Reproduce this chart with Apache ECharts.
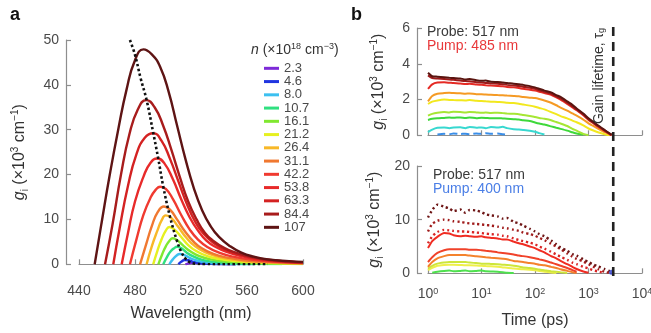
<!DOCTYPE html>
<html><head><meta charset="utf-8">
<script src="https://cdn.jsdelivr.net/npm/echarts@6/dist/echarts.min.js"></script>
<style>html,body{margin:0;padding:0;background:#fff}#c{width:651px;height:333px}</style>
</head><body><div id="c"></div><script>
// ---------- DATA: panel a (gain spectra, wavelength nm -> g_i x10^3 cm^-1) ----------
const DENSITY_LABELS = ['2.3','4.6','8.0','10.7','16.1','21.2','26.4','31.1','42.2','53.8','63.3','84.4','107'];
const SPEC_2_3  = [[516,0],[518.5,0.22],[521,0.34],[524,0.3],[528,0.2],[534,0.1],[542,0.04],[552,0.01]];
const SPEC_4_6  = [[511,0],[513,0.55],[515.5,0.95],[518,0.9],[521,0.6],[525,0.32],[531,0.14],[540,0.05],[552,0.01]];
const SPEC_8_0  = [[504.5,0],[507,1.1],[509.5,1.9],[512,2.3],[515,2.1],[519,1.45],[524,0.85],[530,0.45],[538,0.2],[550,0.07],[565,0.02]];
const SPEC_10_7 = [[500.2,0],[503,1.7],[505.5,2.9],[508,3.6],[510,3.9],[513,3.6],[517,2.6],[522,1.7],[528,1.0],[536,0.55],[548,0.25],[565,0.1],[585,0.03]];
const SPEC_16_1 = [[496.7,0],[499.5,2.3],[502,4],[504.5,5.2],[507,5.8],[510,5.4],[515,4],[520,2.8],[526,1.8],[534,1.1],[545,0.6],[560,0.3],[580,0.15],[600,0.07]];
const SPEC_21_2 = [[493,0],[496,3],[499,5.6],[502,7.5],[504.5,8.3],[508,7.8],[513,6.1],[518,4.3],[524,2.9],[531,1.9],[540,1.2],[552,0.7],[570,0.35],[600,0.15]];
const SPEC_26_4 = [[488.3,0],[492,4],[496,7.5],[499,9.8],[502,10.9],[506,10.3],[511,8.3],[517,5.8],[523,4],[530,2.7],[538,1.8],[548,1.1],[562,0.6],[580,0.35],[600,0.2]];
const SPEC_31_1 = [[483.6,0],[488,4.5],[492,8.5],[496,11.5],[500.7,12.9],[505,12.2],[510,10],[516,7.2],[522,5],[528,3.5],[536,2.3],[546,1.5],[558,0.9],[575,0.5],[600,0.25]];
const SPEC_42_2 = [[476.4,0],[481,5.5],[486,11],[491,14.8],[495,16.7],[498,17.3],[502,16.8],[507,14.6],[513,11],[519,7.8],[525,5.5],[532,3.8],[540,2.6],[550,1.7],[562,1.1],[578,0.6],[600,0.3]];
const SPEC_53_8 = [[470.5,0],[475,7],[480,14],[486,19.5],[491,22.6],[496,23.6],[501,22.5],[507,19],[513,14.5],[519,10.5],[525,7.5],[531,5.3],[538,3.8],[546,2.7],[556,1.8],[568,1.1],[584,0.6],[600,0.35]];
const SPEC_63_3 = [[464.5,0],[469,8],[475,17.5],[481,24.5],[487,28.2],[493,29.2],[499,27.5],[505,23.5],[511,18.5],[517,13.5],[523,9.5],[529,6.8],[536,4.8],[544,3.3],[554,2.2],[565,1.4],[580,0.8],[600,0.4]];
const SPEC_84_4 = [[458.6,0],[464,9],[470,20],[476,29],[482,34.5],[488,36.6],[494,35],[500,31],[506,25.5],[512,19.5],[518,14],[524,10],[530,7],[536,5.2],[544,3.6],[552,2.6],[562,1.7],[575,1.0],[590,0.6],[600,0.45]];
const SPEC_107  = [[451.2,0],[456,9],[462,20],[468,30],[474,39],[480,45.5],[486,47.9],[492,46.8],[498,44],[504,38.5],[510,31],[516,23.5],[522,17],[528,12],[534,8.5],[540,6.1],[548,4],[556,2.6],[565,1.7],[575,1.1],[590,0.7],[600,0.55]];
const MU_I0 = [[476.4,50],[480,46.7],[484,41.5],[488.3,36.6],[493.1,29.2],[496.6,23.6],[500.2,17.3],[505,10.6],[509.8,5.4],[513,2.8],[516,1.3],[519,0.5],[523,0.15],[530,0.03],[545,0],[575,0]];

// ---------- DATA: panel b (time ps -> g_i) ----------
const TIME_B = [1,1.2,1.5,2,2.5,3,4,5,6,8,10,12,15,20,25,30,40,50,60,80,100,120,150,200,250,300,400,500,600,800,1000,1200,1500,2000,2500,2700];
const GAIN_LIFETIME_PS = 2900;
// pump 485 nm
const P485_BROWN  = [3.5,3.3,3.28,3.25,3.22,3.2,3.18,3.12,3.15,3.08,3.05,3.06,3.0,2.98,2.95,2.93,2.88,2.86,2.82,2.75,2.68,2.6,2.5,2.4,2.25,2.15,1.9,1.7,1.5,1.22,0.95,0.78,0.56,0.3,0.1,0.04];
const P485_DKRED  = [3.35,3.2,3.18,3.15,3.12,3.1,3.06,3.03,3.02,2.97,2.95,2.93,2.9,2.88,2.85,2.82,2.78,2.76,2.72,2.66,2.6,2.52,2.43,2.32,2.18,2.06,1.82,1.62,1.44,1.17,0.9,0.73,0.52,0.27,0.08,0.02];
const P485_RED    = [2.6,2.85,2.95,2.96,2.94,2.92,2.9,2.87,2.88,2.84,2.82,2.8,2.78,2.76,2.74,2.7,2.68,2.64,2.6,2.55,2.5,2.44,2.36,2.26,2.12,2.0,1.76,1.56,1.4,1.12,0.86,0.7,0.48,0.25,0.06,0.0];
const P485_ORANGE = [1.9,2.2,2.32,2.36,2.38,2.36,2.35,2.33,2.34,2.3,2.3,2.28,2.27,2.25,2.24,2.22,2.2,2.18,2.14,2.1,2.08,2.03,1.95,1.82,1.68,1.55,1.38,1.22,1.1,0.88,0.67,0.54,0.38,0.18,0.06,0.02];
const P485_YELLOW = [1.75,1.88,1.95,2.0,1.98,1.97,1.96,1.95,1.97,1.93,1.92,1.9,1.88,1.86,1.85,1.82,1.8,1.76,1.72,1.66,1.6,1.53,1.45,1.3,1.18,1.07,0.95,0.82,0.73,0.55,0.38,0.28,0.17,0.06,0.0];
const P485_LGREEN = [1.1,1.2,1.26,1.3,1.28,1.32,1.3,1.27,1.3,1.28,1.26,1.27,1.25,1.26,1.24,1.22,1.2,1.18,1.14,1.08,1.02,0.97,0.92,0.84,0.74,0.66,0.52,0.36,0.26,0.08,0.0];
const P485_GREEN  = [0.86,0.92,0.95,0.97,0.99,0.98,1.0,0.97,0.99,0.96,0.98,0.97,0.95,0.96,0.94,0.93,0.9,0.88,0.84,0.8,0.72,0.66,0.6,0.5,0.42,0.36,0.26,0.17,0.1,0.03];
const P485_CYAN   = [0.18,0.32,0.42,0.44,0.4,0.43,0.45,0.4,0.47,0.42,0.44,0.4,0.46,0.43,0.48,0.4,0.34,0.32,0.3,0.26,0.2,0.12,0.04];
const P485_BLUE   = [null,null,0.05,0.08,0.06,0.1,0.07,0.09,0.06,0.1,0.08,0.12,0.09,0.1,0.06,0.04];
// pump 400 nm
const P400_BROWN_DOT = [10.4,11.8,12.8,12.4,12.1,11.6,11.9,11.3,11.8,11.7,11.4,11.0,10.8,10.6,10.2,10.3,9.6,9.3,8.9,8.3,7.8,7.3,6.9,6.1,5.4,4.8,4.2,3.6,3.3,2.6,2.1,1.7,1.3,0.8,0.4];
const P400_DKRED_DOT = [7.8,9.2,9.8,10.0,9.9,9.7,9.6,9.4,9.3,9.2,9.1,9.0,8.9,8.7,8.5,8.4,8.1,7.9,7.6,7.3,7.0,6.6,6.2,5.5,5.0,4.5,3.7,3.1,2.7,2.2,1.7,1.3,0.8,0.3,0.05];
const P400_RED_DOT   = [5.6,6.9,7.7,8.1,8.0,7.9,7.8,7.8,7.7,7.6,7.5,7.4,7.3,7.2,7.0,6.9,6.5,6.2,6.0,5.7,5.4,5.0,4.6,4.0,3.5,3.1,2.5,2.0,1.7,1.2,0.9,0.6,0.35,0.05];
const P400_RED       = [4.7,6.0,6.8,7.5,7.4,7.1,6.9,7.0,6.9,6.8,6.9,6.7,6.6,6.5,6.3,6.3,5.9,5.6,5.4,5.0,4.7,4.3,3.9,3.2,2.8,2.3,1.7,1.2,0.8,0.35,0.1];
const P400_RED_LOW   = [2.1,3.0,3.8,4.3,4.5,4.5,4.5,4.5,4.4,4.4,4.3,4.2,4.1,3.9,3.8,3.7,3.5,3.3,3.2,3.0,2.8,2.6,2.4,2.0,1.7,1.4,1.0,0.6,0.3];
const P400_ORANGE    = [1.2,2.1,2.8,3.2,3.4,3.4,3.4,3.4,3.3,3.2,3.1,3.0,2.9,2.8,2.7,2.6,2.3,2.2,2.1,1.9,1.8,1.6,1.5,1.2,1.0,0.75,0.45,0.2,0.05];
const P400_YGREEN    = [0.9,1.4,1.8,2.0,2.1,2.1,2.1,2.1,2.0,1.9,1.8,1.8,1.75,1.7,1.6,1.55,1.4,1.25,1.1,1.0,0.85,0.7,0.55,0.4,0.3,0.2,0.05];
const P400_YELLOW    = [0.6,1.0,1.4,1.55,1.6,1.6,1.55,1.5,1.5,1.45,1.4,1.35,1.3,1.2,1.1,1.05,0.9,0.8,0.75,0.65,0.55,0.45,0.3,0.15,0.05];
const P400_GREEN     = [null,0.1,0.3,0.45,0.5,0.4,0.45,0.5,0.4,0.45,0.5,0.4,0.35,0.3,0.2,0.1,0.05];
const P400_END_POINT = [[2700,0.2]];

// ---------- STYLE ----------
const FONT = 'Liberation Sans, Arial, Helvetica, sans-serif';
const AXIS_COLOR = '#8e8e8e', LABEL_COLOR = '#4a4a4a', NAME_COLOR = '#333';
const DENSITY_COLORS = ['#7d2ad8','#2035e0','#3cc0f0','#30e080','#80e830','#e6f020','#f8b828','#f07830','#f03a30','#e82a2a','#d42222','#a81c1c','#5e1414'];
const SPECTRA = [SPEC_2_3,SPEC_4_6,SPEC_8_0,SPEC_10_7,SPEC_16_1,SPEC_21_2,SPEC_26_4,SPEC_31_1,SPEC_42_2,SPEC_53_8,SPEC_63_3,SPEC_84_4,SPEC_107];

function zipT(vals){ return vals.map((v,i)=> v==null ? null : [TIME_B[i], v]).filter(p=>p); }

const richY = {
  g: {fontStyle:'italic', fontSize:16, fontFamily:FONT, color:NAME_COLOR},
  sub: {fontSize:10, verticalAlign:'bottom', lineHeight:11, fontFamily:FONT, color:NAME_COLOR},
  sup: {fontSize:10, verticalAlign:'top', lineHeight:11, fontFamily:FONT, color:NAME_COLOR}
};
const Y_NAME = '{g|g}{sub|i} (×10{sup|3} cm{sup|−1})';

function axisCommon(){
  return {
    axisLine:{show:true, lineStyle:{color:AXIS_COLOR, width:1.2}},
    axisTick:{show:true, inside:true, length:5, lineStyle:{color:AXIS_COLOR, width:1.2}},
    splitLine:{show:false},
    axisLabel:{color:LABEL_COLOR, fontSize:14, fontFamily:FONT}
  };
}

const series = [];
SPECTRA.forEach((d,i)=>{
  series.push({type:'line', name:DENSITY_LABELS[i], xAxisIndex:0, yAxisIndex:0, data:d,
    smooth:0.5, showSymbol:false, symbol:'none', color:DENSITY_COLORS[i],
    lineStyle:{width:2.4, color:DENSITY_COLORS[i]}, z:2+i, animation:false});
});
series.push({type:'line', name:'mu', xAxisIndex:0, yAxisIndex:0, data:MU_I0.map((p,i)=> i===0 ? {value:p, label:{show:true, position:'left', distance:1, offset:[0,-6],
    formatter:'{m|μ}{s|i,0}', rich:{m:{fontStyle:'italic', fontSize:15, fontFamily:FONT, color:'#333'}, s:{fontSize:9, verticalAlign:'bottom', lineHeight:12, fontFamily:FONT, color:'#333'}}}} : p),
  smooth:0.4, showSymbol:false, symbol:'none', color:'#111', lineStyle:{width:2.6, type:[2.5,2.5], color:'#111'}, z:30, animation:false});

const top485 = [
  [P485_BLUE,'#3a8ee8','dashed'],[P485_CYAN,'#38d8d0'],[P485_GREEN,'#3ed83a'],[P485_LGREEN,'#a6e634'],[P485_YELLOW,'#f2e81e'],
  [P485_ORANGE,'#f59a24'],[P485_RED,'#e52a24'],[P485_DKRED,'#9e1a1a'],[P485_BROWN,'#5a1510']];
top485.forEach((s,i)=>{
  series.push({type:'line', name:'b485_'+i, xAxisIndex:1, yAxisIndex:1, data:zipT(s[0]), smooth:0.2, showSymbol:false, symbol:'none',
    lineStyle:{width:2, color:s[1], type:s[2]||'solid'}, color:s[1], z:3+i, animation:false});
});
const bot400 = [
  [P400_GREEN,'#4ee04e','solid'],[P400_YELLOW,'#eef04a','solid'],[P400_YGREEN,'#cde63a','solid'],[P400_ORANGE,'#f4822c','solid'],
  [P400_RED_LOW,'#f0422a','solid'],[P400_RED,'#f02c22','solid'],[P400_RED_DOT,'#d82424','dotted'],[P400_DKRED_DOT,'#a01c1c','dotted'],[P400_BROWN_DOT,'#6e1616','dotted']];
bot400.forEach((s,i)=>{
  series.push({type:'line', name:'b400_'+i, xAxisIndex:2, yAxisIndex:2, data:zipT(s[0]), smooth:0.2, showSymbol:false, symbol:'none',
    lineStyle:{width:s[2]==='dotted'?2.4:2, color:s[1], type:s[2]==='dotted'?[2,3]:'solid'}, color:s[1], z:3+i, animation:false});
});
series.push({type:'scatter', name:'end', xAxisIndex:2, yAxisIndex:2, data:P400_END_POINT, symbolSize:5, itemStyle:{color:'#2a3ad0'}, z:20, animation:false});

const option = {
  animation:false,
  textStyle:{fontFamily:FONT},
  grid:[
    {left:79, top:40, width:224, height:224.3, outerBoundsMode:'none', containLabel:false},
    {left:428, top:28, width:214, height:107.3, outerBoundsMode:'none', containLabel:false},
    {left:428, top:166, width:214, height:107.3, outerBoundsMode:'none', containLabel:false}
  ],
  xAxis:[
    Object.assign(axisCommon(), {gridIndex:0, type:'value', min:440, max:600, interval:40, offset:13,
      name:'Wavelength (nm)', nameLocation:'middle', nameGap:28, nameTextStyle:{fontSize:16, color:NAME_COLOR, fontFamily:FONT},
      axisLabel:{color:LABEL_COLOR, fontSize:14, fontFamily:FONT, margin:7}}),
    Object.assign(axisCommon(), {gridIndex:1, type:'log', logBase:10, min:1, max:10000, offset:5, axisLabel:{show:false}}),
    Object.assign(axisCommon(), {gridIndex:2, type:'log', logBase:10, min:1, max:10000, offset:2,
      name:'Time (ps)', nameLocation:'middle', nameGap:37, nameTextStyle:{fontSize:16, color:NAME_COLOR, fontFamily:FONT},
      axisLabel:{color:LABEL_COLOR, fontSize:14, fontFamily:FONT, margin:12,
        formatter:(v)=> '10{s|' + Math.round(Math.log10(v)) + '}',
        rich:{s:{fontSize:9, verticalAlign:'top', lineHeight:10, color:LABEL_COLOR, fontFamily:FONT}}}})
  ],
  yAxis:[
    Object.assign(axisCommon(), {gridIndex:0, type:'value', min:0, max:50, interval:10, offset:13,
      name:Y_NAME, nameLocation:'middle', nameGap:36, nameTextStyle:{fontSize:16, lineHeight:20, color:NAME_COLOR, fontFamily:FONT, rich:richY},
      axisLabel:{color:LABEL_COLOR, fontSize:14, fontFamily:FONT, margin:7}}),
    Object.assign(axisCommon(), {gridIndex:1, type:'value', min:0, max:6, interval:2, offset:11,
      name:Y_NAME, nameLocation:'middle', nameGap:28, nameTextStyle:{fontSize:16, lineHeight:20, color:NAME_COLOR, fontFamily:FONT, rich:richY},
      axisLabel:{color:LABEL_COLOR, fontSize:14, fontFamily:FONT, margin:7}}),
    Object.assign(axisCommon(), {gridIndex:2, type:'value', min:0, max:20, interval:10, offset:11,
      name:Y_NAME, nameLocation:'middle', nameGap:32, nameTextStyle:{fontSize:16, lineHeight:20, color:NAME_COLOR, fontFamily:FONT, rich:richY},
      axisLabel:{color:LABEL_COLOR, fontSize:14, fontFamily:FONT, margin:7}})
  ],
  legend:{
    data:DENSITY_LABELS, orient:'vertical', left:259, top:56.7, itemGap:0, itemWidth:15, itemHeight:3, icon:'rect',
    textStyle:{fontSize:13, color:LABEL_COLOR, fontFamily:FONT, lineHeight:13.25}, selectedMode:false
  },
  series:series
};

const chart = echarts.init(document.getElementById('c'), null, {renderer:'canvas'});
chart.setOption(option);

const xLine = chart.convertToPixel({xAxisIndex:1}, GAIN_LIFETIME_PS);
const yTop = chart.convertToPixel({yAxisIndex:1}, 6);
const yBot = chart.convertToPixel({yAxisIndex:2}, 0);
const supRich = {
  i:{fontStyle:'italic', fontSize:14, fontFamily:FONT, fill:'#333'},
  s:{fontSize:9, verticalAlign:'top', lineHeight:10, fontFamily:FONT, fill:'#333'},
  n:{fontSize:14, fontFamily:FONT, fill:'#333', lineHeight:16}
};
chart.setOption({graphic:[
  {type:'text', left:10, top:6, style:{text:'a', fontSize:18, fontWeight:'bold', fontFamily:FONT, fill:'#111'}},
  {type:'text', left:351, top:6, style:{text:'b', fontSize:18, fontWeight:'bold', fontFamily:FONT, fill:'#111'}},
  {type:'text', left:251, top:42, style:{text:'{i|n}{n| (×10}{s|18}{n| cm}{s|−3}{n|)}', rich:supRich, fontFamily:FONT}},
  {type:'text', left:427, top:25, style:{text:'Probe: 517 nm', fontSize:14, fontFamily:FONT, fill:'#3a3a3a'}},
  {type:'text', left:427, top:39, style:{text:'Pump: 485 nm', fontSize:14, fontFamily:FONT, fill:'#e8383a'}},
  {type:'text', left:433, top:168, style:{text:'Probe: 517 nm', fontSize:14, fontFamily:FONT, fill:'#3a3a3a'}},
  {type:'text', left:433, top:182, style:{text:'Pump: 400 nm', fontSize:14, fontFamily:FONT, fill:'#4a7ee6'}},
  {type:'line', shape:{x1:xLine, y1:yTop-1, x2:xLine, y2:yBot+3}, style:{stroke:'#222', lineWidth:2.6, lineDash:[9,6]}, z:50},
  {type:'text', x:xLine-14, y:76, rotation:Math.PI/2,
    style:{text:'Gain lifetime, {t|τ}{g|g}', fontSize:14, fontFamily:FONT, fill:'#333', align:'center', verticalAlign:'middle',
      rich:{t:{fontSize:14, fontFamily:FONT, fill:'#333'}, g:{fontSize:9, verticalAlign:'bottom', lineHeight:14, fontFamily:FONT, fill:'#333'}}}, z:50}
]});
</script></body></html>
